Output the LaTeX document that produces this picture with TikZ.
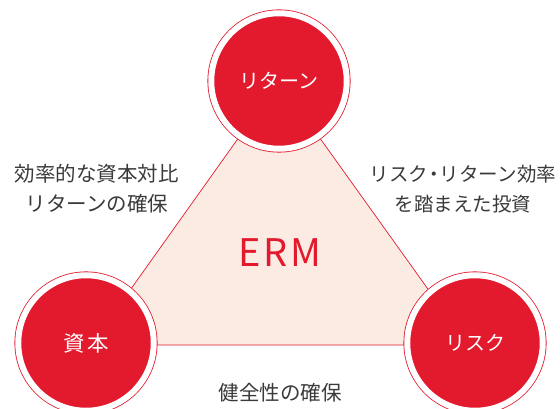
\documentclass[tikz,border=0pt]{standalone}
\usepackage{fontspec}
\setmainfont{Noto Sans CJK JP}
\newfontfamily\jpfont{Noto Sans CJK JP}
\definecolor{ermred}{HTML}{E31A2D}
\definecolor{ermpeach}{HTML}{FBEBE3}
\definecolor{ermtext}{HTML}{3A3A3A}
\begin{document}
\begin{tikzpicture}[x=1pt,y=-1pt,
  pillar/.style={circle, inner sep=0pt, minimum size=135.5pt,
    fill=ermred, draw=ermred, line width=0.8pt, double=white, double distance=6pt,
    text=white, font=\jpfont\fontsize{20}{24}\selectfont},
  caption/.style={text=ermtext, align=center,
    font=\jpfont\fontsize{20.5}{30}\selectfont}]
  \useasboundingbox (0,0) rectangle (560,409);
  \clip (0,0) rectangle (560,409);
  % triangle linking the three pillars
  \coordinate (tA) at (279,81);
  \coordinate (tB) at (91,345);
  \coordinate (tC) at (468,345);
  \filldraw[fill=ermpeach, draw=ermred, line width=0.7pt] (tA) -- (tB) -- (tC) -- cycle;
  \node[text=ermred, font=\jpfont\fontsize{38}{40}\selectfont] (erm) at (280,253) {E\kern2.5pt R\kern2.5pt M};
  % pillars
  \node[pillar] (ret) at (279,81) {リターン};
  \node[pillar, font=\jpfont\fontsize{21.5}{24}\selectfont] (cap) at (86,343) {資\kern2pt 本};
  \node[pillar] (risk) at (475,343) {リスク};
  % edge captions
  \node[caption] (lc) at (97,189) {効率的な資本対比\\リターンの確保};
  \node[caption, font=\jpfont\fontsize{19.5}{30}\selectfont] (rc) at (463,189)
    {リスク\kern-4pt・\kern-4ptリターン効率\\を踏まえた投資};
  \node[caption] (bc) at (280,393) {健全性の確保};
\end{tikzpicture}
\end{document}
